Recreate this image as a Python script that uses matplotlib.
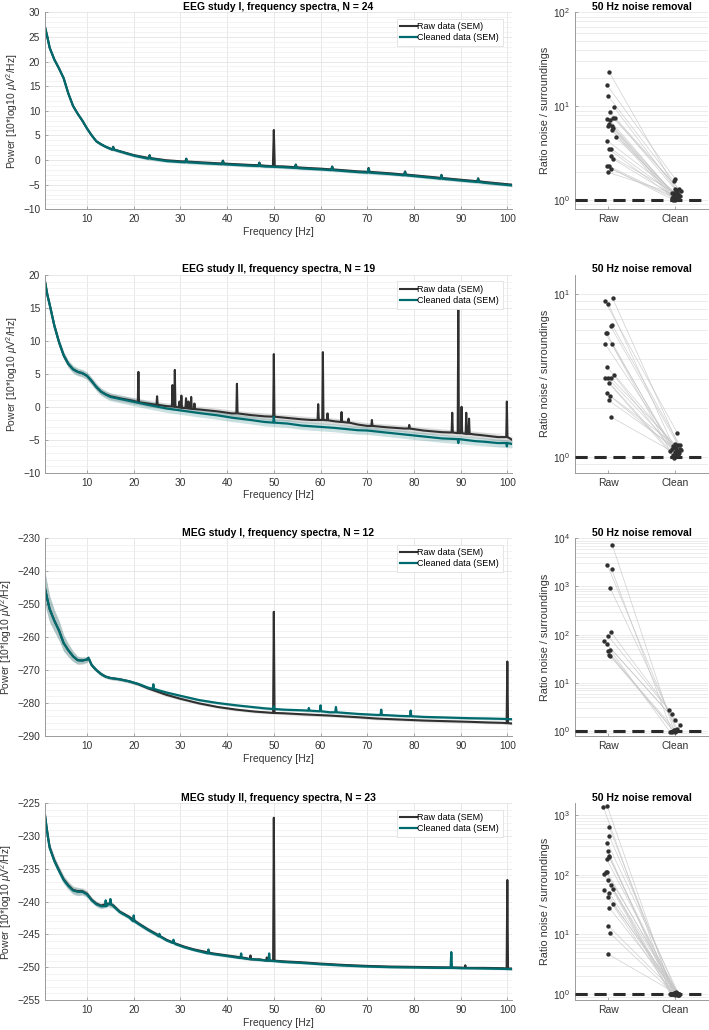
import numpy as np
import matplotlib
matplotlib.use("Agg")
import matplotlib.pyplot as plt
from matplotlib.ticker import LogLocator, NullFormatter, MultipleLocator

plt.rcParams['font.family'] = ['Liberation Sans', 'DejaVu Sans']
plt.rcParams['font.size'] = 7
plt.rcParams['mathtext.fontset'] = 'custom'
plt.rcParams['mathtext.rm'] = 'Liberation Sans'
plt.rcParams['mathtext.it'] = 'Liberation Sans:italic'

TEAL = '#006b6e'
RAWC = '#303030'

# ---------------- spectra: knots (Hz, dB) + line peaks (freq, base, top) ----------------
F1 = [1, 1.5, 2, 3, 4, 5, 6, 7, 8, 9, 10, 11, 12, 13, 14, 15, 17, 20, 23, 27, 30, 35, 40, 45, 48, 52,
      56, 60, 64, 68, 72, 75, 80, 85, 90, 95, 101]
RAW1 = [27.0, 25.0, 22.8, 20.4, 18.6, 16.6, 13.5, 11.0, 9.4, 8.0, 6.4, 5.0, 3.8, 3.2, 2.7, 2.3, 1.8, 1.0,
        0.45, -0.05, -0.25, -0.5, -0.75, -1.0, -1.15, -1.3, -1.55, -1.75, -2.0, -2.3, -2.5, -2.7, -3.1,
        -3.55, -4.0, -4.45, -5.0]
CLEAN1 = [27.0, 25.0, 22.8, 20.4, 18.6, 16.6, 13.5, 11.0, 9.4, 8.0, 6.4, 5.0, 3.8, 3.2, 2.7, 2.3, 1.75, 0.9,
          0.3, -0.2, -0.4, -0.65, -0.9, -1.15, -1.3, -1.45, -1.7, -1.9, -2.15, -2.45, -2.65, -2.85, -3.25,
          -3.7, -4.15, -4.6, -5.15]
RAW1_SEM = [0.3] * len(F1)
CLEAN1_SEM = [0.3] * len(F1)
RAW1_PEAKS = [(15.6, 2.15, 2.7), (23.4, 0.4, 1.0), (31.25, -0.3, 0.3), (39.1, -0.7, -0.1), (46.9, -1.05, -0.5),
              (50.0, -1.25, 6.1), (54.7, -1.45, -0.9), (62.5, -1.9, -1.3), (70.3, -2.4, -1.6),
              (78.1, -2.95, -2.3), (85.9, -3.65, -3.0), (93.75, -4.3, -3.7)]
CLEAN1_PEAKS = [(15.6, 2.1, 2.6), (23.4, 0.3, 0.9), (31.25, -0.45, 0.2), (39.1, -0.85, -0.2),
                (46.9, -1.2, -0.6), (54.7, -1.6, -1.0), (62.5, -2.05, -1.4), (70.3, -2.55, -1.7),
                (78.1, -3.1, -2.4), (85.9, -3.8, -3.1), (93.75, -4.45, -3.8)]

F2 = [1, 1.5, 2, 3, 4, 5, 6, 7, 8, 9, 10, 11, 12, 13, 14, 15, 17, 20, 23, 27, 34, 38, 41, 45, 48, 53, 56,
      58, 63, 68, 70, 74, 78, 82, 86, 93, 95, 98, 101]
RAW2 = [19.0, 17.0, 15.5, 12.3, 9.8, 7.8, 6.5, 5.7, 5.3, 5.1, 4.7, 3.9, 3.0, 2.3, 1.9, 1.6, 1.3, 0.9, 0.5,
        0.1, -0.4, -0.7, -1.0, -1.25, -1.45, -1.7, -1.9, -2.0, -2.2, -2.7, -2.9, -3.1, -3.3, -3.6, -3.85,
        -4.2, -4.35, -4.6, -5.0]
CLEAN2 = [19.0, 17.0, 15.5, 12.3, 9.8, 7.8, 6.5, 5.7, 5.3, 5.1, 4.7, 3.9, 3.0, 2.3, 1.85, 1.5, 1.2, 0.75,
          0.3, -0.25, -0.95, -1.3, -1.65, -2.0, -2.3, -2.55, -2.85, -2.95, -3.2, -3.55, -3.6, -3.9, -4.2,
          -4.5, -4.8, -5.2, -5.3, -5.5, -5.65]
RAW2_SEM = [0.5] * len(F2)
CLEAN2_SEM = [0.6] * len(F2)
RAW2_PEAKS = [(21.0, 0.7, 5.3), (25.0, 0.3, 1.6), (28.3, 0.05, 3.3), (28.8, 0.0, 5.6), (29.8, -0.1, 0.8),
              (30.2, -0.15, 1.7), (31.2, -0.2, 1.3), (31.7, -0.25, 0.8), (32.3, -0.3, 1.5), (33.0, -0.35, 0.5),
              (42.1, -1.0, 3.5), (50.0, -1.5, 8.0), (59.5, -2.0, 0.4), (60.5, -2.0, 8.3), (61.5, -2.05, -1.0),
              (64.5, -2.3, -0.8), (66.0, -2.4, -1.8), (71.0, -2.9, -2.0), (79.0, -3.3, -2.75),
              (88.2, -3.9, -0.9), (89.5, -4.0, 14.9), (90.2, -4.0, 0.0), (91.2, -4.1, -0.9),
              (91.8, -4.1, -1.8), (99.9, -4.6, 0.8)]
CLEAN2_PEAKS = [(50.0, -2.4, -1.5), (89.5, -4.9, -5.5), (99.9, -5.5, -6.0)]

F3 = [1, 1.5, 2, 3, 4, 5, 6, 7, 8, 9, 10, 10.3, 11, 12, 13, 14, 15, 17, 19, 21, 23, 25, 27, 30, 34, 38,
      42, 46, 48, 52, 56, 62, 68, 72, 77, 82, 87, 92, 96, 99, 101]
RAW3 = [-245.2, -248.5, -251.5, -255.0, -258.0, -261.8, -264.0, -265.8, -267.0, -267.1, -266.8, -266.3,
        -268.5, -270.0, -271.2, -272.0, -272.4, -272.8, -273.4, -274.3, -275.5, -276.5, -277.5, -278.7,
        -280.1, -281.2, -282.0, -282.6, -282.8, -283.1, -283.4, -283.8, -284.3, -284.7, -285.0, -285.3,
        -285.5, -285.7, -285.9, -286.0, -286.2]
CLEAN3 = [-245.2, -248.5, -251.5, -255.0, -258.0, -261.8, -264.0, -265.8, -267.0, -267.1, -266.8, -266.3,
          -268.5, -270.0, -271.2, -272.0, -272.4, -272.8, -273.4, -274.2, -275.3, -276.0, -276.8, -277.8,
          -279.1, -280.0, -280.7, -281.3, -281.6, -282.0, -282.2, -282.8, -283.3, -283.6, -283.9, -284.2,
          -284.4, -284.6, -284.7, -284.8, -284.9]
RAW3_SEM = [5.0, 4.5, 4.0, 3.3, 3.0, 2.5, 2.0, 1.6, 1.2, 1.0, 0.9, 0.8, 0.7, 0.6, 0.6, 0.5, 0.5, 0.5, 0.5,
            0.5, 0.5, 0.5, 0.5, 0.4, 0.4, 0.4, 0.4, 0.4, 0.4, 0.4, 0.4, 0.4, 0.4, 0.4, 0.4, 0.4, 0.4, 0.4,
            0.4, 0.4, 0.4]
CLEAN3_SEM = RAW3_SEM
RAW3_PEAKS = [(50.0, -283.0, -252.3), (100.0, -286.1, -267.4)]
CLEAN3_PEAKS = [(24.2, -275.7, -274.3), (50.0, -281.8, -281.0), (57.5, -282.3, -281.5), (60.0, -282.5, -280.7),
                (63.3, -282.8, -281.2), (73.0, -283.6, -282.0), (79.3, -284.0, -282.3)]

F4 = [1, 1.3, 1.7, 2, 3, 4, 5, 6, 7, 8, 9, 10, 11, 12, 13, 14.5, 15.5, 17, 19, 21, 23, 25, 27, 29, 31, 33,
      37, 41, 44, 47, 52, 56, 60, 65, 70, 75, 80, 85, 90, 95, 99, 101]
CLEAN4 = [-226.8, -228.5, -230.5, -231.8, -233.8, -235.3, -236.7, -237.6, -238.3, -238.5, -238.5, -238.9,
          -239.8, -240.4, -240.7, -240.4, -240.6, -241.6, -242.4, -243.4, -244.3, -245.1, -245.9, -246.5,
          -247.0, -247.4, -248.0, -248.4, -248.7, -248.9, -249.2, -249.35, -249.55, -249.75, -249.9, -250.0,
          -250.05, -250.1, -250.15, -250.2, -250.25, -250.3]
RAW4 = [-226.8, -228.5, -230.4, -231.7, -233.7, -235.2, -236.6, -237.5, -238.2, -238.4, -238.4, -238.8,
        -239.7, -240.3, -240.6, -240.3, -240.5, -241.5, -242.3, -243.3, -244.2, -245.0, -245.8, -246.4,
        -246.9, -247.3, -247.9, -248.3, -248.6, -248.8, -249.1, -249.25, -249.45, -249.65, -249.8, -249.9,
        -249.95, -250.0, -250.05, -250.1, -250.15, -250.2]
RAW4_SEM = [0.5, 0.6, 0.6, 0.6, 0.6, 0.6, 0.6, 0.6, 0.6, 0.6, 0.5, 0.5, 0.4, 0.4, 0.4, 0.4, 0.4, 0.3, 0.3,
            0.3, 0.3, 0.3, 0.2, 0.2, 0.2, 0.2, 0.2, 0.2, 0.2, 0.2, 0.15, 0.15, 0.15, 0.15, 0.15, 0.15, 0.15,
            0.15, 0.15, 0.15, 0.15, 0.15]
CLEAN4_SEM = RAW4_SEM
RAW4_PEAKS = [(45.0, -248.8, -248.2), (48.5, -249.0, -248.5), (50.0, -249.0, -227.2), (91.0, -250.1, -249.7),
              (100.0, -250.2, -236.7)]
CLEAN4_PEAKS = [(14.0, -240.7, -239.8), (15.0, -240.4, -239.6), (20.0, -243.0, -242.1), (25.5, -245.3, -244.9),
                (28.5, -246.3, -245.8), (36.0, -247.9, -247.3), (43.0, -248.6, -247.9), (49.0, -249.0, -247.9),
                (88.0, -250.1, -247.7)]

# ---------------- 50 Hz ratios per subject (value, x-jitter) ----------------
R1_RAW = [23.1, 16.7, 12.8, 9.7, 8.6, 7.5, 7.5, 7.3, 7.1, 6.45, 6.2, 6.15, 5.8, 5.6, 4.65, 4.3, 3.55, 3.47,
          2.94, 2.76, 2.3, 2.3, 2.17, 1.99]
R1_RAW_J = [.015, -.015, 0, .09, .03, .075, .1, -.025, .025, .015, .06, 0, .065, .05, .11, -.015, .04, .015,
            .035, .065, -.025, .01, .04, -.01]
R1_CLEAN = [1.28, 1.67, 1.59, 1.32, 1.32, 1.24, 1.23, 1.18, 1.13, 1.09, 1.07, 1.02, 1.0, 1.05, 1.1, 1.15,
            1.2, 1.04, 1.12, 1.06, 1.01, 1.08, 1.03, 1.16]
R1_CLEAN_J = [.025, .01, -.015, .01, .06, .095, .035, -.015, -.005, .025, -.025, .045, .01, -.04, .06, .045,
              -.04, 0, .085, .035, -.025, -.015, .015, .005]

R2_RAW = [9.4, 8.97, 8.69, 6.4, 6.31, 5.74, 5.7, 4.94, 4.94, 3.56, 3.19, 3.05, 3.05, 3.05, 2.84, 2.46, 2.36,
          2.22, 1.76]
R2_RAW_J = [.065, -.05, 0, .06, .035, -.025, -.04, -.05, .05, -.015, .09, -.05, -.01, .035, .005, -.025, .025,
            .005, .035]
R2_CLEAN = [1.19, 1.41, 1.15, 1.18, 1.1, 1.11, 1.07, 1.05, 0.99, 1.04, 1.13, 1.09, 1.06, 1.2, 1.02, 1.12,
            1.08, 1.16, 1.03]
R2_CLEAN_J = [.05, .035, -.015, .075, .095, -.04, .01, .045, -.015, .01, .025, -.065, .06, 0, -.03, .085,
              .035, -.025, .05]

R3_RAW = [7380, 2820, 2290, 918, 113, 93, 73, 64, 49, 45.5, 38, 36.7]
R3_RAW_J = [.06, -.015, .05, .03, .04, 0, -.06, -.025, .025, 0, .015, .03]
R3_CLEAN = [1.05, 1.0, 0.97, 1.08, 2.79, 2.26, 1.7, 1.33, 0.94, 1.02, 0.97, 1.05]
R3_CLEAN_J = [-.015, .025, -.04, .035, -.085, -.04, 0, .075, -.065, -.025, 0, .01]

R4_RAW = [1380, 1400, 638, 446, 345, 254, 206, 182, 196, 113, 102, 110, 82, 67, 57, 56, 49, 42, 32, 28,
          13.9, 10.5, 4.67]
R4_RAW_J = [-.075, -.015, .01, .015, -.015, -.01, .005, -.025, .015, -.04, -.065, -.015, 0, .035, .075, -.06,
            .015, -.01, .075, .015, 0, .025, 0]
R4_CLEAN = [1.0, 1.02, 0.98, 1.05, 1.01, 0.99, 1.03, 1.0, 1.04, 0.97, 1.02, 1.06, 1.0, 0.98, 1.01, 1.03,
            0.99, 1.02, 1.0, 1.07, 0.96, 1.01, 1.0]
R4_CLEAN_J = [-.06, -.03, 0, .03, .06, -.045, .015, .045, -.015, .07, -.07, .02, -.02, .05, -.05, .01, .035,
              -.035, .065, .025, .05, -.01, .04]

TITLES = ['EEG study I, frequency spectra, N = 24', 'EEG study II, frequency spectra, N = 19',
          'MEG study I, frequency spectra, N = 12', 'MEG study II, frequency spectra, N = 23']


def build(freqs, vals, peaks, hw):
    pts = list(zip(freqs, vals))
    for f, base, top in peaks:
        pts += [(f - hw, base), (f, top), (f + hw, base)]
    pts.sort()
    x, y = zip(*pts)
    return np.array(x), np.array(y)


W, H = 709, 1030
def frac(l, t, r, b):
    return [l / W, 1 - b / H, (r - l) / W, (b - t) / H]


def style(ax):
    for s in ['top', 'right']:
        ax.spines[s].set_visible(False)
    for s in ['left', 'bottom']:
        ax.spines[s].set_color('#9a9a9a')
        ax.spines[s].set_linewidth(0.7)
    ax.tick_params(which='both', direction='in', colors='#9a9a9a', labelcolor='#333333', labelsize=7.3,
                   length=2.5, width=0.6)
    ax.tick_params(which='minor', length=0)
    ax.set_axisbelow(True)


fig = plt.figure(figsize=(7.09, 10.30), dpi=100)
ROWS = [(12.3, 209.3), (275, 472.7), (538.3, 736), (803.3, 1000)]
SPEC = [(F1, RAW1, CLEAN1, RAW1_SEM, CLEAN1_SEM, RAW1_PEAKS, CLEAN1_PEAKS, (-10, 30), 5, 1, 0.2),
        (F2, RAW2, CLEAN2, RAW2_SEM, CLEAN2_SEM, RAW2_PEAKS, CLEAN2_PEAKS, (-10, 20), 5, 1, 0.13),
        (F3, RAW3, CLEAN3, RAW3_SEM, CLEAN3_SEM, RAW3_PEAKS, CLEAN3_PEAKS, (-290, -230), 10, 2, 0.15),
        (F4, RAW4, CLEAN4, RAW4_SEM, CLEAN4_SEM, RAW4_PEAKS, CLEAN4_PEAKS, (-255, -225), 5, 1, 0.15)]
RATIO = [(R1_RAW, R1_RAW_J, R1_CLEAN, R1_CLEAN_J, (0.8, 100)),
         (R2_RAW, R2_RAW_J, R2_CLEAN, R2_CLEAN_J, (0.8, 13)),
         (R3_RAW, R3_RAW_J, R3_CLEAN, R3_CLEAN_J, (0.79, 1e4)),
         (R4_RAW, R4_RAW_J, R4_CLEAN, R4_CLEAN_J, (0.8, 1570))]

for i, ((top, bot), spec, ratio) in enumerate(zip(ROWS, SPEC, RATIO)):
    f, raw, cln, rsem, csem, rpk, cpk, ylim, maj, mnr, hw = spec
    ax = fig.add_axes(frac(45, top, 512, bot))
    style(ax)
    f = np.array(f); raw = np.array(raw); cln = np.array(cln)
    ax.fill_between(f, raw - np.array(rsem), raw + np.array(rsem), color='#9a9a9a', alpha=0.35, lw=0)
    ax.fill_between(f, cln - np.array(csem), cln + np.array(csem), color=TEAL, alpha=0.2, lw=0)
    x, y = build(f, raw, rpk, hw)
    ax.plot(x, y, color=RAWC, lw=1.5, label='Raw data (SEM)')
    x, y = build(f, cln, cpk, hw)
    ax.plot(x, y, color=TEAL, lw=1.6, label='Cleaned data (SEM)')
    ax.set_xlim(1, 101)
    ax.set_ylim(*ylim)
    ax.set_xticks(range(10, 101, 10))
    ax.yaxis.set_major_locator(MultipleLocator(maj))
    ax.yaxis.set_minor_locator(MultipleLocator(mnr))
    ax.grid(True, which='major', color='#e4e4e4', lw=0.6)
    ax.grid(True, which='minor', axis='y', color='#efefef', lw=0.5)
    ax.set_xlabel('Frequency [Hz]', fontsize=7.5, color='#333333', labelpad=2)
    ax.set_ylabel(r'Power [10*log10 $\mu$V$^2$/Hz]', fontsize=7.5, color='#333333', labelpad=2)
    ax.set_title(TITLES[i], fontweight='bold', fontsize=7.5, pad=2)
    leg = ax.legend(loc='upper right', fontsize=6.5, handlelength=1.8, handletextpad=0.1, borderpad=0.4,
                    labelspacing=0.2, fancybox=False, framealpha=1, bbox_to_anchor=(0.99, 0.99))
    leg.get_frame().set_edgecolor('#e0e0e0')
    leg.get_frame().set_linewidth(0.6)

    rv, rj, cv, cj, rlim = ratio
    ax2 = fig.add_axes(frac(575, top, 708, bot))
    style(ax2)
    ax2.set_yscale('log')
    ax2.set_xlim(0.5, 2.5)
    ax2.set_ylim(*rlim)
    xr = 1 + np.array(rj); xc = 2 + np.array(cj)
    for a, b, c, d in zip(xr, rv, xc, cv):
        ax2.plot([a, c], [b, d], color='#c4c4c4', lw=0.5, alpha=0.8, zorder=2)
    ax2.axhline(1, color='#2a2a2a', lw=2.2, ls=(0, (4, 2.2)), zorder=3)
    ax2.scatter(xr, rv, s=10, color=RAWC, zorder=4, lw=0)
    ax2.scatter(xc, cv, s=10, color=RAWC, zorder=4, lw=0)
    ax2.set_xticks([1, 2])
    ax2.set_xticklabels(['Raw', 'Clean'], fontsize=7.5)
    ax2.yaxis.set_major_locator(LogLocator(base=10, numticks=10))
    ax2.yaxis.set_minor_locator(LogLocator(base=10, subs=np.arange(2, 10), numticks=20))
    ax2.yaxis.set_minor_formatter(NullFormatter())
    ax2.grid(True, which='both', axis='y', color='#e4e4e4', lw=0.5)
    ax2.set_ylabel('Ratio noise / surroundings', fontsize=7.8, color='#333333', labelpad=2)
    ax2.set_title('50 Hz noise removal', fontweight='bold', fontsize=7.5, pad=2)

fig.savefig('out.png', dpi=100)
